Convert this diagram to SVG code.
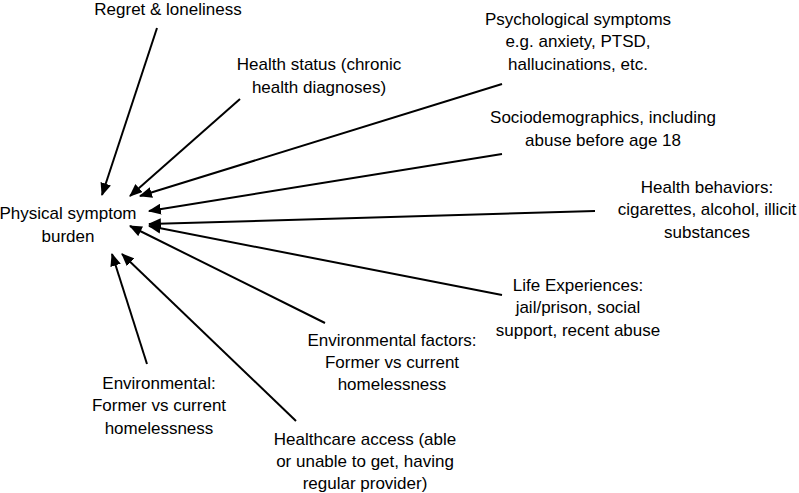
<svg xmlns="http://www.w3.org/2000/svg" width="799" height="493" viewBox="0 0 799 493">
<style>
text{font-family:"Liberation Sans",Arial,sans-serif;font-size:17px;fill:#000;text-anchor:middle}
.c line{stroke:#000;stroke-width:2;marker-end:url(#ah)}
</style>
<defs>
<marker id="ah" viewBox="0 0 12 10" refX="11" refY="5" markerWidth="6.5" markerHeight="5.5" orient="auto" markerUnits="strokeWidth">
<path d="M0,0 L12,5 L0,10 Z" fill="#000"/>
</marker>
</defs>
<rect width="799" height="493" fill="#fff"/>
<g id="connectors" class="c">
<line x1="157" y1="28" x2="102" y2="195"/>
<line x1="240" y1="99" x2="130" y2="196"/>
<line x1="502" y1="84" x2="140" y2="196"/>
<line x1="502" y1="154" x2="149" y2="211"/>
<line x1="595" y1="211" x2="149" y2="224"/>
<line x1="502" y1="295" x2="149" y2="226"/>
<line x1="325" y1="323" x2="130" y2="226"/>
<line x1="147" y1="364" x2="112" y2="254"/>
<line x1="296" y1="421" x2="122" y2="254"/>
</g>
<g id="physical"><text x="68" y="219">Physical symptom</text><text x="68" y="242">burden</text></g>
<g id="regret"><text x="168" y="15">Regret &amp; loneliness</text></g>
<g id="health-status"><text x="319" y="70">Health status (chronic</text><text x="319" y="93">health diagnoses)</text></g>
<g id="psych"><text x="578" y="25">Psychological symptoms</text><text x="578" y="47">e.g. anxiety, PTSD,</text><text x="578" y="70">hallucinations, etc.</text></g>
<g id="socio"><text x="603" y="123">Sociodemographics, including</text><text x="603" y="146">abuse before age 18</text></g>
<g id="behaviors"><text x="707" y="193">Health behaviors:</text><text x="707" y="215">cigarettes, alcohol, illicit</text><text x="707" y="238">substances</text></g>
<g id="life"><text x="578" y="291">Life Experiences:</text><text x="578" y="313">jail/prison, social</text><text x="578" y="336">support, recent abuse</text></g>
<g id="env-factors"><text x="392" y="346">Environmental factors:</text><text x="392" y="368">Former vs current</text><text x="392" y="390">homelessness</text></g>
<g id="env"><text x="159" y="389">Environmental:</text><text x="159" y="411">Former vs current</text><text x="159" y="434">homelessness</text></g>
<g id="healthcare"><text x="365" y="445">Healthcare access (able</text><text x="365" y="467">or unable to get, having</text><text x="365" y="489">regular provider)</text></g>
</svg>
